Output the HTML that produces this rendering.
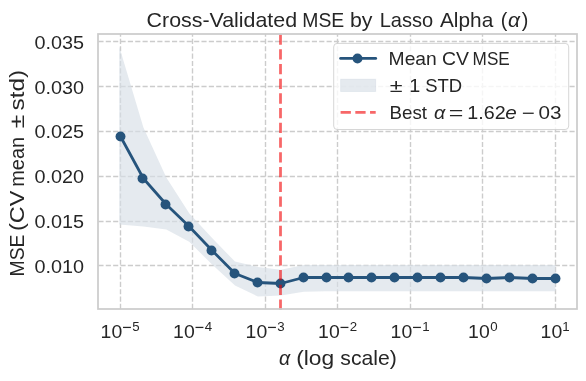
<!DOCTYPE html>
<html><head><meta charset="utf-8"><title>Cross-Validated MSE by Lasso Alpha</title>
<style>html,body{margin:0;padding:0;background:#fff;font-family:"Liberation Sans",sans-serif}svg text{white-space:pre}</style>
</head><body>
<svg width="586" height="381" viewBox="0 0 586 381" style="display:block;will-change:transform" font-family="'Liberation Sans', sans-serif" fill="#262626">
<rect width="586" height="381" fill="#ffffff"/>
<line x1="120.50" y1="309.00" x2="120.50" y2="34.00" stroke="#cccccc" stroke-width="1.389" stroke-dasharray="5.139 2.222"/>
<line x1="192.50" y1="309.00" x2="192.50" y2="34.00" stroke="#cccccc" stroke-width="1.389" stroke-dasharray="5.139 2.222"/>
<line x1="265.50" y1="309.00" x2="265.50" y2="34.00" stroke="#cccccc" stroke-width="1.389" stroke-dasharray="5.139 2.222"/>
<line x1="337.50" y1="309.00" x2="337.50" y2="34.00" stroke="#cccccc" stroke-width="1.389" stroke-dasharray="5.139 2.222"/>
<line x1="410.50" y1="309.00" x2="410.50" y2="34.00" stroke="#cccccc" stroke-width="1.389" stroke-dasharray="5.139 2.222"/>
<line x1="482.50" y1="309.00" x2="482.50" y2="34.00" stroke="#cccccc" stroke-width="1.389" stroke-dasharray="5.139 2.222"/>
<line x1="555.50" y1="309.00" x2="555.50" y2="34.00" stroke="#cccccc" stroke-width="1.389" stroke-dasharray="5.139 2.222"/>
<line x1="98.40" y1="265.50" x2="577.00" y2="265.50" stroke="#cccccc" stroke-width="1.389" stroke-dasharray="5.139 2.222"/>
<line x1="98.40" y1="221.50" x2="577.00" y2="221.50" stroke="#cccccc" stroke-width="1.389" stroke-dasharray="5.139 2.222"/>
<line x1="98.40" y1="176.50" x2="577.00" y2="176.50" stroke="#cccccc" stroke-width="1.389" stroke-dasharray="5.139 2.222"/>
<line x1="98.40" y1="131.50" x2="577.00" y2="131.50" stroke="#cccccc" stroke-width="1.389" stroke-dasharray="5.139 2.222"/>
<line x1="98.40" y1="86.50" x2="577.00" y2="86.50" stroke="#cccccc" stroke-width="1.389" stroke-dasharray="5.139 2.222"/>
<line x1="98.40" y1="41.50" x2="577.00" y2="41.50" stroke="#cccccc" stroke-width="1.389" stroke-dasharray="5.139 2.222"/>
<polygon points="119.30,46.70 143.41,127.50 166.31,177.60 189.20,213.30 212.10,238.00 234.99,261.60 257.89,267.00 280.78,269.80 303.68,265.10 326.57,265.00 349.47,265.00 372.36,265.00 395.26,265.00 418.15,265.00 441.05,265.00 463.94,265.00 486.84,265.00 509.73,265.00 532.63,265.00 555.52,265.00 555.52,291.30 532.63,291.30 509.73,291.30 486.84,291.30 463.94,291.30 441.05,291.30 418.15,291.30 395.26,291.30 372.36,291.30 349.47,291.30 326.57,291.30 303.68,291.80 280.78,295.60 257.89,296.50 234.99,285.60 212.10,264.50 189.20,241.80 166.31,229.40 143.41,226.40 119.30,224.60" fill="#d7dfe6" fill-opacity="0.65"/>
<polyline points="120.52,136.50 143.41,178.50 166.31,204.50 189.20,226.50 212.10,250.50 234.99,273.50 257.89,282.50 280.78,283.50 303.68,277.50 326.57,277.50 349.47,277.50 372.36,277.50 395.26,277.50 418.15,277.50 441.05,277.50 463.94,277.50 486.84,278.50 509.73,277.50 532.63,278.50 555.52,278.50" fill="none" stroke="#26547c" stroke-width="2.778" stroke-linejoin="round" stroke-linecap="round"/>
<circle cx="120.50" cy="136.50" r="4.95" fill="#26547c"/>
<circle cx="142.50" cy="178.50" r="4.95" fill="#26547c"/>
<circle cx="165.50" cy="204.50" r="4.95" fill="#26547c"/>
<circle cx="188.50" cy="226.50" r="4.95" fill="#26547c"/>
<circle cx="211.50" cy="250.50" r="4.95" fill="#26547c"/>
<circle cx="234.50" cy="273.50" r="4.95" fill="#26547c"/>
<circle cx="257.50" cy="282.50" r="4.95" fill="#26547c"/>
<circle cx="280.50" cy="283.50" r="4.95" fill="#26547c"/>
<circle cx="303.50" cy="277.50" r="4.95" fill="#26547c"/>
<circle cx="326.50" cy="277.50" r="4.95" fill="#26547c"/>
<circle cx="348.50" cy="277.50" r="4.95" fill="#26547c"/>
<circle cx="371.50" cy="277.50" r="4.95" fill="#26547c"/>
<circle cx="394.50" cy="277.50" r="4.95" fill="#26547c"/>
<circle cx="417.50" cy="277.50" r="4.95" fill="#26547c"/>
<circle cx="440.50" cy="277.50" r="4.95" fill="#26547c"/>
<circle cx="463.50" cy="277.50" r="4.95" fill="#26547c"/>
<circle cx="486.50" cy="278.50" r="4.95" fill="#26547c"/>
<circle cx="509.50" cy="277.50" r="4.95" fill="#26547c"/>
<circle cx="532.50" cy="278.50" r="4.95" fill="#26547c"/>
<circle cx="555.50" cy="278.50" r="4.95" fill="#26547c"/>
<line x1="280.50" y1="309.75" x2="280.50" y2="34.00" stroke="#f20203" stroke-opacity="0.6" stroke-width="2.778" stroke-dasharray="10.278 4.444"/>
<rect x="98.00" y="34.00" width="479.00" height="275.00" fill="none" stroke="#cccccc" stroke-width="1.736"/>
<rect x="333.7" y="43.4" width="235.0" height="86.1" rx="3.5" ry="3.5" fill="#ffffff" fill-opacity="0.8" stroke="#cccccc" stroke-opacity="0.8" stroke-width="1.0"/>
<line x1="340.6" y1="58.4" x2="375.7" y2="58.4" stroke="#26547c" stroke-width="2.778" stroke-linecap="round"/>
<circle cx="357.5" cy="58.5" r="4.95" fill="#26547c"/>
<rect x="340.6" y="79.2" width="35.1" height="12.3" fill="#d7dfe6" fill-opacity="0.65" stroke="#26547c" stroke-opacity="0.07" stroke-width="1"/>
<line x1="340.6" y1="112.3" x2="375.7" y2="112.3" stroke="#f20203" stroke-opacity="0.6" stroke-width="2.778" stroke-dasharray="10.278 4.444"/>
<text x="146.60" y="26.70" font-size="19.80" text-anchor="start" textLength="150.50" lengthAdjust="spacingAndGlyphs">Cross-Validated</text>
<text x="302.30" y="26.70" font-size="19.80" text-anchor="start" textLength="42.00" lengthAdjust="spacingAndGlyphs">MSE</text>
<text x="349.90" y="26.70" font-size="19.80" text-anchor="start" textLength="22.50" lengthAdjust="spacingAndGlyphs">by</text>
<text x="379.70" y="26.70" font-size="19.80" text-anchor="start" textLength="53.50" lengthAdjust="spacingAndGlyphs">Lasso</text>
<text x="440.00" y="26.70" font-size="19.80" text-anchor="start" textLength="53.20" lengthAdjust="spacingAndGlyphs">Alpha</text>
<text x="500.80" y="26.70" font-size="19.80" text-anchor="start">(</text>
<text x="508.00" y="26.70" font-size="19.80" text-anchor="start" textLength="12.00" lengthAdjust="spacingAndGlyphs" font-style="italic">α</text>
<text x="521.80" y="26.70" font-size="19.80" text-anchor="start">)</text>
<text x="34.40" y="272.80" font-size="17.90" text-anchor="start" textLength="49.60" lengthAdjust="spacingAndGlyphs">0.010</text>
<text x="34.40" y="228.00" font-size="17.90" text-anchor="start" textLength="49.60" lengthAdjust="spacingAndGlyphs">0.015</text>
<text x="34.40" y="183.20" font-size="17.90" text-anchor="start" textLength="49.60" lengthAdjust="spacingAndGlyphs">0.020</text>
<text x="34.40" y="138.40" font-size="17.90" text-anchor="start" textLength="49.60" lengthAdjust="spacingAndGlyphs">0.025</text>
<text x="34.40" y="93.60" font-size="17.90" text-anchor="start" textLength="49.60" lengthAdjust="spacingAndGlyphs">0.030</text>
<text x="34.40" y="48.80" font-size="17.90" text-anchor="start" textLength="49.60" lengthAdjust="spacingAndGlyphs">0.035</text>
<text x="100.62" y="337.90" font-size="17.90" text-anchor="start" textLength="21.60" lengthAdjust="spacingAndGlyphs">10</text>
<rect x="123.02" y="326.8" width="7.9" height="1.25" fill="#262626"/>
<text x="132.32" y="331.00" font-size="12.60" text-anchor="start" textLength="7.40" lengthAdjust="spacingAndGlyphs">5</text>
<text x="173.12" y="337.90" font-size="17.90" text-anchor="start" textLength="21.60" lengthAdjust="spacingAndGlyphs">10</text>
<rect x="195.52" y="326.8" width="7.9" height="1.25" fill="#262626"/>
<text x="204.82" y="331.00" font-size="12.60" text-anchor="start" textLength="7.40" lengthAdjust="spacingAndGlyphs">4</text>
<text x="245.62" y="337.90" font-size="17.90" text-anchor="start" textLength="21.60" lengthAdjust="spacingAndGlyphs">10</text>
<rect x="268.02" y="326.8" width="7.9" height="1.25" fill="#262626"/>
<text x="277.32" y="331.00" font-size="12.60" text-anchor="start" textLength="7.40" lengthAdjust="spacingAndGlyphs">3</text>
<text x="318.12" y="337.90" font-size="17.90" text-anchor="start" textLength="21.60" lengthAdjust="spacingAndGlyphs">10</text>
<rect x="340.52" y="326.8" width="7.9" height="1.25" fill="#262626"/>
<text x="349.82" y="331.00" font-size="12.60" text-anchor="start" textLength="7.40" lengthAdjust="spacingAndGlyphs">2</text>
<text x="390.62" y="337.90" font-size="17.90" text-anchor="start" textLength="21.60" lengthAdjust="spacingAndGlyphs">10</text>
<rect x="413.02" y="326.8" width="7.9" height="1.25" fill="#262626"/>
<text x="422.32" y="331.00" font-size="12.60" text-anchor="start" textLength="7.40" lengthAdjust="spacingAndGlyphs">1</text>
<text x="468.12" y="337.90" font-size="17.90" text-anchor="start" textLength="21.60" lengthAdjust="spacingAndGlyphs">10</text>
<text x="490.32" y="331.00" font-size="12.60" text-anchor="start" textLength="7.40" lengthAdjust="spacingAndGlyphs">0</text>
<text x="540.62" y="337.90" font-size="17.90" text-anchor="start" textLength="21.60" lengthAdjust="spacingAndGlyphs">10</text>
<text x="562.22" y="331.00" font-size="12.60" text-anchor="start" textLength="7.40" lengthAdjust="spacingAndGlyphs">1</text>
<text x="279.00" y="365.00" font-size="19.80" text-anchor="start" textLength="11.20" lengthAdjust="spacingAndGlyphs" font-style="italic">α</text>
<text x="296.20" y="365.00" font-size="19.80" text-anchor="start" textLength="38.00" lengthAdjust="spacingAndGlyphs">(log</text>
<text x="340.30" y="365.00" font-size="19.80" text-anchor="start" textLength="56.50" lengthAdjust="spacingAndGlyphs">scale)</text>
<text transform="translate(24.0,276.50) rotate(-90)" font-size="19.80" textLength="42.00" lengthAdjust="spacingAndGlyphs">MSE</text>
<text transform="translate(24.0,231.00) rotate(-90)" font-size="19.80" textLength="40.50" lengthAdjust="spacingAndGlyphs">(CV</text>
<text transform="translate(24.0,186.80) rotate(-90)" font-size="19.80" textLength="50.00" lengthAdjust="spacingAndGlyphs">mean</text>
<text transform="translate(24.0,128.20) rotate(-90)" font-size="19.80" textLength="13.50" lengthAdjust="spacingAndGlyphs">±</text>
<text transform="translate(24.0,110.50) rotate(-90)" font-size="19.80" textLength="40.60" lengthAdjust="spacingAndGlyphs">std)</text>
<text x="388.60" y="64.50" font-size="17.90" text-anchor="start" textLength="48.20" lengthAdjust="spacingAndGlyphs">Mean</text>
<text x="442.00" y="64.50" font-size="17.90" text-anchor="start" textLength="27.00" lengthAdjust="spacingAndGlyphs">CV</text>
<text x="472.60" y="64.50" font-size="17.90" text-anchor="start" textLength="37.20" lengthAdjust="spacingAndGlyphs">MSE</text>
<text x="389.80" y="91.80" font-size="17.90" text-anchor="start" textLength="12.80" lengthAdjust="spacingAndGlyphs">±</text>
<text x="409.20" y="91.80" font-size="17.90" text-anchor="start" textLength="11.00" lengthAdjust="spacingAndGlyphs">1</text>
<text x="425.20" y="91.80" font-size="17.90" text-anchor="start" textLength="37.00" lengthAdjust="spacingAndGlyphs">STD</text>
<text x="389.50" y="118.80" font-size="17.90" text-anchor="start" textLength="37.50" lengthAdjust="spacingAndGlyphs">Best</text>
<text x="434.00" y="118.80" font-size="17.90" text-anchor="start" textLength="11.30" lengthAdjust="spacingAndGlyphs" font-style="italic">α</text>
<text x="448.80" y="118.80" font-size="17.90" text-anchor="start" textLength="14.60" lengthAdjust="spacingAndGlyphs">=</text>
<text x="467.30" y="118.80" font-size="17.90" text-anchor="start" textLength="38.40" lengthAdjust="spacingAndGlyphs">1.62</text>
<text x="505.30" y="118.80" font-size="17.90" text-anchor="start" textLength="11.50" lengthAdjust="spacingAndGlyphs" font-style="italic">e</text>
<text x="521.70" y="118.80" font-size="17.90" text-anchor="start" textLength="13.00" lengthAdjust="spacingAndGlyphs">−</text>
<text x="538.50" y="118.80" font-size="17.90" text-anchor="start" textLength="23.00" lengthAdjust="spacingAndGlyphs">03</text>
</svg>
</body></html>
